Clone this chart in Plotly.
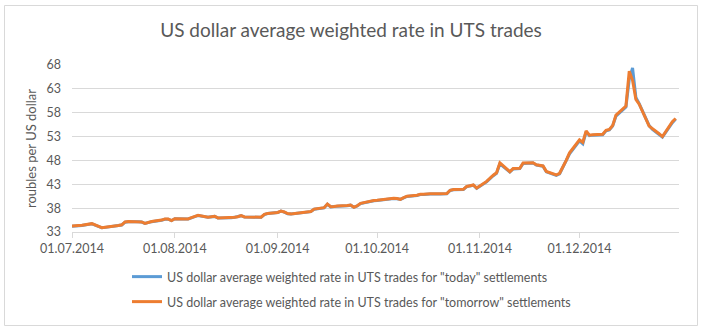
import pandas as pd
import plotly.graph_objects as go

# Trading days of UTS, 1 July - 30 December 2014 (4 November is a holiday)
trade_dates = [d for d in pd.bdate_range("2014-07-01", "2014-12-30")
               if d != pd.Timestamp("2014-11-04")]

# Weighted average USD/RUB rate, "today" settlements (roubles per US dollar)
rate_today = [
    34.22, 34.23, 34.28, 34.38, 34.72, 34.48, 34.12, 33.88, 33.97, 34.18, 34.33, 34.47,
    35.06, 35.17, 35.13, 35.08, 34.78, 34.97, 35.17, 35.47, 35.67, 35.68, 35.37,  # Jul
    35.77, 35.68, 35.72, 35.97, 36.27, 36.47, 36.08, 36.17, 36.27, 35.93, 35.92, 35.98,
    36.07, 36.17, 36.42, 36.12, 36.08, 36.07, 36.08, 36.66, 36.86,  # Aug
    37.07, 37.37, 37.17, 36.83, 36.77, 36.97, 37.02, 37.07, 37.27, 37.76, 38.06, 38.80,
    38.27, 38.32, 38.42, 38.52, 38.62, 38.17, 38.47, 38.96, 39.46, 39.56,  # Sep
    39.62, 39.72, 39.82, 40.02, 39.97, 39.83, 40.17, 40.46, 40.66, 40.86, 40.87, 40.97,
    40.97, 40.97, 40.98, 41.02, 41.70, 41.86, 41.92, 42.50, 42.66, 42.80, 42.15,  # Oct
    43.50, 44.80, 45.30, 47.30, 45.55, 46.20, 46.30, 46.30, 47.35, 47.45, 47.05, 46.85,
    46.80, 45.60, 44.85, 45.20, 46.50, 47.90, 49.40,  # Nov
    52.10, 51.50, 54.00, 53.20, 53.30, 53.40, 54.20, 54.40, 55.20, 57.30, 59.20, 65.00,
    67.40, 61.20, 59.90, 55.30, 54.50, 54.00, 53.50, 52.90, 55.90, 56.70,  # Dec
]

# Weighted average USD/RUB rate, "tomorrow" settlements (roubles per US dollar)
rate_tomorrow = [
    34.25, 34.25, 34.30, 34.40, 34.75, 34.50, 34.15, 33.90, 34.00, 34.20, 34.35, 34.50,
    35.10, 35.20, 35.15, 35.10, 34.80, 35.00, 35.20, 35.50, 35.70, 35.70, 35.40,  # Jul
    35.80, 35.70, 35.75, 36.00, 36.30, 36.50, 36.10, 36.20, 36.30, 35.95, 35.95, 36.00,
    36.10, 36.20, 36.45, 36.15, 36.10, 36.10, 36.10, 36.70, 36.90,  # Aug
    37.10, 37.40, 37.20, 36.85, 36.80, 37.00, 37.05, 37.10, 37.30, 37.80, 38.10, 38.85,
    38.30, 38.35, 38.45, 38.55, 38.65, 38.20, 38.50, 39.00, 39.50, 39.60,  # Sep
    39.65, 39.75, 39.85, 40.05, 40.00, 39.85, 40.20, 40.50, 40.70, 40.90, 40.90, 41.00,
    41.00, 41.00, 41.00, 41.05, 41.75, 41.90, 41.95, 42.55, 42.70, 42.85, 42.20,  # Oct
    43.60, 44.90, 45.40, 47.50, 45.65, 46.30, 46.35, 46.35, 47.45, 47.50, 47.10, 46.90,
    46.85, 45.70, 44.95, 45.30, 46.60, 48.00, 49.60,  # Nov
    52.30, 51.80, 54.20, 53.30, 53.40, 53.50, 54.30, 54.50, 55.30, 57.50, 59.40, 66.70,
    64.80, 60.80, 59.80, 55.20, 54.60, 54.10, 53.60, 53.00, 56.10, 56.80,  # Dec
]

series_names = [
    'US dollar average weighted rate in UTS trades for "today" settlements',
    'US dollar average weighted rate in UTS trades for "tomorrow" settlements',
]
series_colors = ["#5B9BD5", "#ED7D31"]

FONT = "Lato"
TEXT = "#595959"
GRID = "#D9D9D9"

W, H = 702, 330
L, R, T, B = 72, 23, 65, 98
pw, ph = W - L - R, H - T - B


def px_x(x):
    return (x - L) / pw


def px_y(y):
    return (H - B - y) / ph


fig = go.Figure()
for vals, name, col, leg in zip([rate_today, rate_tomorrow], series_names,
                                series_colors, ["legend", "legend2"]):
    fig.add_trace(go.Scatter(
        x=trade_dates, y=vals, mode="lines", name=name,
        line=dict(color=col, width=3, shape="linear"),
        legend=leg,
    ))

legend_common = dict(
    orientation="v", xanchor="left", yanchor="middle",
    font=dict(family=FONT, size=12.5, color=TEXT),
    bgcolor="rgba(0,0,0,0)", borderwidth=0,
)

fig.update_layout(
    width=W, height=H,
    margin=dict(l=L, r=R, t=T, b=B),
    paper_bgcolor="white", plot_bgcolor="white",
    font=dict(family=FONT, color=TEXT),
    title=dict(
        text="US dollar average weighted rate in UTS trades",
        font=dict(family=FONT, size=19, color=TEXT),
        x=0.5, xref="container", xanchor="center",
        y=1 - 30 / H, yref="container", yanchor="middle",
    ),
    xaxis=dict(
        type="date",
        range=["2014-07-01", "2014-12-31"],
        tick0="2014-07-01", dtick="M1", tickformat="%d.%m.%Y",
        ticks="outside", ticklen=5, tickcolor=GRID, tickwidth=1,
        showline=True, linecolor=GRID, linewidth=1,
        showgrid=False, zeroline=False,
        tickfont=dict(family=FONT, size=12.5, color=TEXT),
    ),
    yaxis=dict(
        range=[33, 68], tick0=33, dtick=5,
        showgrid=True, gridcolor=GRID, gridwidth=1,
        showline=False, zeroline=False, ticks="",
        ticklabelstandoff=10,
        tickfont=dict(family=FONT, size=12.5, color=TEXT),
        title=dict(text="roubles per US dollar", standoff=6,
                   font=dict(family=FONT, size=13, color=TEXT)),
    ),
    legend=dict(legend_common, x=px_x(127), y=px_y(277)),
    legend2=dict(legend_common, x=px_x(127), y=px_y(302)),
    showlegend=True,
    shapes=[dict(
        type="rect", xref="paper", yref="paper",
        x0=px_x(4.5), x1=px_x(697.5), y0=px_y(325.5), y1=px_y(5.5),
        line=dict(color=GRID, width=1), fillcolor="rgba(0,0,0,0)", layer="below",
    )],
)

fig.write_html("out.html")
